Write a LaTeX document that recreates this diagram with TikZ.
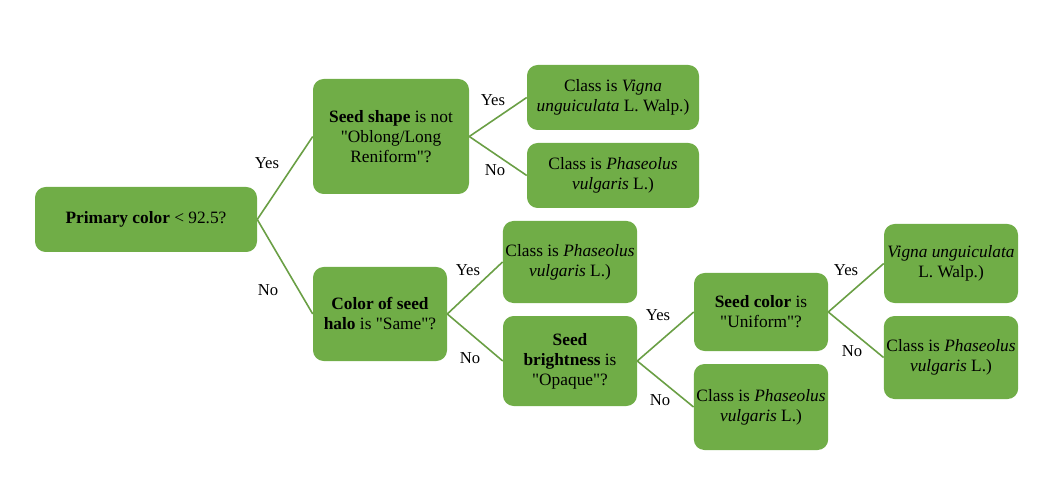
\documentclass[tikz,border=0pt]{standalone}
\usepackage{fontspec}
\setmainfont{Liberation Serif}[Ligatures=TeXOff]
\definecolor{leafgreen}{HTML}{70AD47}
\definecolor{edgegreen}{HTML}{6A9F45}
\tikzset{
  box/.style={rectangle, rounded corners=8, fill=leafgreen, draw=none, align=center,
    inner sep=2pt, font=\fontsize{13}{15}\selectfont},
  lbl/.style={font=\fontsize{12.5}{15}\selectfont, inner sep=1pt},
  branch/.style={draw=edgegreen, line width=1.2pt}
}
\begin{document}
\begin{tikzpicture}[x=0.75pt, y=-0.75pt]
            \useasboundingbox (0,0) rectangle (1062,491);
            % Nodes
            \node[box, minimum width=222*0.75pt, minimum height=65*0.75pt] (root) at (146,219.5) {\textbf{Primary color} < 92.5?};
            \node[box, minimum width=156*0.75pt, minimum height=115*0.75pt] (shape) at (391,136.5) {\textbf{Seed shape} is not\\"Oblong/Long\\Reniform"?};
            \node[box, minimum width=172*0.75pt, minimum height=65*0.75pt] (vigA) at (613,97.5) {Class is \textit{Vigna}\\\textit{unguiculata} L. Walp.)};
            \node[box, minimum width=172*0.75pt, minimum height=65*0.75pt] (phaA) at (613,175.5) {Class is \textit{Phaseolus}\\\textit{vulgaris} L.)};
            \node[box, minimum width=134*0.75pt, minimum height=94*0.75pt] (halo) at (380,314) {\textbf{Color of seed}\\\textbf{halo} is "Same"?};
            \node[box, minimum width=134*0.75pt, minimum height=82*0.75pt] (phaB) at (570,262) {Class is \textit{Phaseolus}\\\textit{vulgaris} L.)};
            \node[box, minimum width=134*0.75pt, minimum height=90*0.75pt] (bright) at (570,361) {\textbf{Seed}\\\textbf{brightness} is\\"Opaque"?};
            \node[box, minimum width=134*0.75pt, minimum height=78*0.75pt] (scolor) at (761,312) {\textbf{Seed color} is\\"Uniform"?};
            \node[box, minimum width=134*0.75pt, minimum height=86*0.75pt] (phaC) at (761,407) {Class is \textit{Phaseolus}\\\textit{vulgaris} L.)};
            \node[box, minimum width=134*0.75pt, minimum height=79*0.75pt] (vigB) at (951,263.5) {\textit{Vigna unguiculata}\\L. Walp.)};
            \node[box, minimum width=134*0.75pt, minimum height=83*0.75pt] (phaD) at (951,357.5) {Class is \textit{Phaseolus}\\\textit{vulgaris} L.)};

            % Branches
            \draw[branch] (root.east) -- (shape.west);
            \draw[branch] (root.east) -- (halo.west);
            \draw[branch] (shape.east) -- (vigA.west);
            \draw[branch] (shape.east) -- (phaA.west);
            \draw[branch] (halo.east) -- (phaB.west);
            \draw[branch] (halo.east) -- (bright.west);
            \draw[branch] (bright.east) -- (scolor.west);
            \draw[branch] (bright.east) -- (phaC.west);
            \draw[branch] (scolor.east) -- (vigB.west);
            \draw[branch] (scolor.east) -- (phaD.west);

            % Labels
            \node[lbl] (yes1) at (267,163) {Yes};
            \node[lbl] (no1) at (268,290) {No};
            \node[lbl] (yes2) at (493,100) {Yes};
            \node[lbl] (no2) at (495,170) {No};
            \node[lbl] (yes3) at (468,270) {Yes};
            \node[lbl] (no3) at (470,358) {No};
            \node[lbl] (yes4) at (658,315) {Yes};
            \node[lbl] (no4) at (660,400) {No};
            \node[lbl] (yes5) at (846,270) {Yes};
            \node[lbl] (no5) at (852,351) {No};
        \end{tikzpicture}
\end{document}
